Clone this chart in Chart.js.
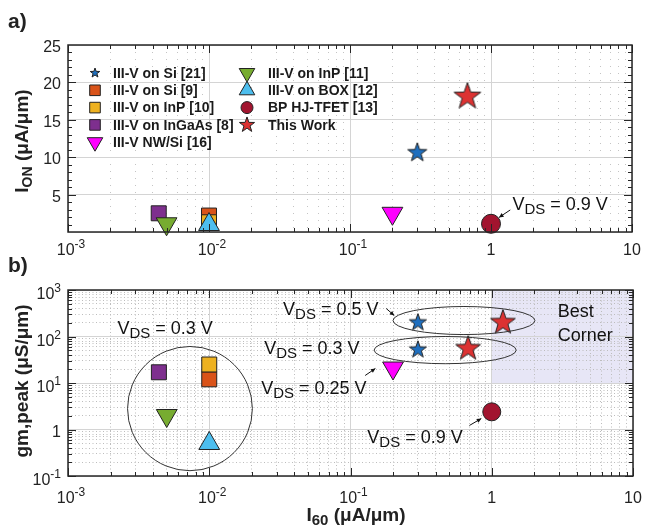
<!DOCTYPE html>
<html>
<head>
<meta charset="utf-8">
<script src="https://cdn.jsdelivr.net/npm/chart.js@4.4.1/dist/chart.umd.min.js"></script>
<style>
body{margin:0;background:#fff;}
#wrap{position:relative;width:647px;height:532px;overflow:hidden;}
canvas{position:absolute;left:0;}
</style>
</head>
<body>
<div id="wrap">
  <canvas id="chartA" width="647" height="266" style="top:0"></canvas>
  <canvas id="chartB" width="647" height="286" style="top:246px"></canvas>
</div>
<script>
// series (same order as legend, column by column)
const seriesNames = ["III-V on Si [21]", "III-V on Si [9]", "III-V on InP [10]", "III-V on InGaAs [8]", "III-V NW/Si [16]",
                     "III-V on InP [11]", "III-V on BOX [12]", "BP HJ-TFET [13]", "This Work"];
const seriesColors = ["#1f6fbf", "#d95319", "#edb120", "#7e2f8e", "#ff00ff", "#77ac30", "#4dbeee", "#a2142f", "#dc3232"];
const seriesShapes = ["star", "rect", "rect", "rect", "triDown", "triDown", "triangle", "circle", "star"];

// a) I60 vs ION
const i60A = [[0.3], [0.01], [0.01], [0.0044], [0.2], [0.005], [0.01], [1.0], [0.68]];
const ionA = [[10.6], [2.2], [1.3], [2.5], [2.5], [1.1], [1.0], [1.1], [18.1]];

// b) I60 vs gm,peak
const i60B = [[0.3, 0.3], [0.01], [0.01], [0.0044], [0.2], [0.005], [0.01], [1.0], [1.2, 0.68]];
const gmB = [[200, 52], [12], [25], [17], [21], [2.0], [0.5], [2.4], [200, 55]];

// ticks
const xTicks = [0.001, 0.01, 0.1, 1, 10];
const xTickLabels = [["10", "-3"], ["10", "-2"], ["10", "-1"], ["1", ""], ["10", ""]];
const ionTicks = [5, 10, 15, 20, 25];
const ionTickLabels = ["5", "10", "15", "20", "25"];
const gmTicks = [0.1, 1, 10, 100, 1000];
const gmTickLabels = [["10", "-1"], ["1", ""], ["10", "1"], ["10", "2"], ["10", "3"]];

// marker sizes / draw order (kept apart from the data)
const sizeA = [10, 10.6, 10.6, 10.6, 12, 12, 12, 9.5, 14];
const sizeB = [9, 10.6, 10.6, 10.6, 12, 12, 12, 9, 13];
const sizeLegend = [5, 7.5, 7.5, 7.5, 9, 9, 9, 6, 8];
const drawOrder = [2, 9, 8, 7, 4, 6, 5, 3, 1];

const FAM = '"Liberation Sans", Arial, Helvetica, sans-serif';
const INK = "#262626";

const logTicks = (e0, e1) => {
  let out = [];
  for (let e = e0; e < e1; e++) for (let k = 1; k < 10; k++) out.push(+(k * Math.pow(10, e)).toPrecision(3));
  out.push(Math.pow(10, e1));
  return out;
};
const isDecade = v => v > 0 && Math.abs(Math.log10(v) - Math.round(Math.log10(v))) < 1e-6;

// star marker as an image
const starCanvas = (R, fill) => {
  const size = Math.ceil(2 * R + 4);
  const c = document.createElement("canvas");
  c.width = c.height = size;
  const g = c.getContext("2d");
  g.beginPath();
  for (let i = 0; i < 10; i++) {
    const r = i % 2 === 0 ? R : R * 0.4;
    const a = -Math.PI / 2 + i * Math.PI / 5;
    g.lineTo(size / 2 + r * Math.cos(a), size / 2 + r * Math.sin(a));
  }
  g.closePath();
  g.fillStyle = fill; g.fill();
  g.lineWidth = 1; g.strokeStyle = "#222"; g.stroke();
  return c;
};

const marker = (ctx, shape, x, y, r, fill) => {
  if (shape === "star") {
    const img = starCanvas(r, fill);
    ctx.drawImage(img, x - img.width / 2, y - img.height / 2);
    return;
  }
  ctx.beginPath();
  if (shape === "rect") {
    const s = r * Math.SQRT1_2;
    ctx.rect(x - s, y - s, 2 * s, 2 * s);
  } else if (shape === "circle") {
    ctx.arc(x, y, r, 0, Math.PI * 2);
  } else {
    const d = shape === "triDown" ? -1 : 1;
    ctx.moveTo(x, y - d * r);
    ctx.lineTo(x + r * 0.866, y + d * r / 2);
    ctx.lineTo(x - r * 0.866, y + d * r / 2);
    ctx.closePath();
  }
  ctx.fillStyle = fill; ctx.fill();
  ctx.strokeStyle = "#222"; ctx.lineWidth = 1; ctx.stroke();
};

// text with sub/superscripts: parts = [text, size, dy]
const rich = (ctx, parts, x, y, align, weight) => {
  weight = weight || "normal";
  let w = 0;
  parts.forEach(p => { ctx.font = weight + " " + p[1] + "px " + FAM; w += ctx.measureText(p[0]).width; });
  let cx = align === "center" ? x - w / 2 : align === "right" ? x - w : x;
  ctx.textAlign = "left"; ctx.textBaseline = "alphabetic";
  parts.forEach(p => {
    ctx.font = weight + " " + p[1] + "px " + FAM;
    ctx.fillText(p[0], cx, y + (p[2] || 0));
    cx += ctx.measureText(p[0]).width;
  });
};
const vds = v => [["V", 18], ["DS", 15, 4], [" = " + v + " V", 18]];

const arrow = (ctx, x0, y0, x1, y1) => {
  ctx.beginPath(); ctx.moveTo(x0, y0); ctx.lineTo(x1, y1); ctx.stroke();
  const a = Math.atan2(y1 - y0, x1 - x0), L = 5;
  ctx.beginPath();
  ctx.moveTo(x1, y1);
  ctx.lineTo(x1 - L * Math.cos(a - 0.45), y1 - L * Math.sin(a - 0.45));
  ctx.lineTo(x1 - L * Math.cos(a + 0.45), y1 - L * Math.sin(a + 0.45));
  ctx.closePath(); ctx.fill();
};

const makeDatasets = (xs, ys, sizes) => seriesNames.map((name, i) => ({
  label: name,
  data: xs[i].map((x, j) => ({x: x, y: ys[i][j]})),
  pointStyle: seriesShapes[i] === "star" ? starCanvas(sizes[i], seriesColors[i])
            : seriesShapes[i] === "triDown" ? "triangle" : seriesShapes[i],
  rotation: seriesShapes[i] === "triDown" ? 180 : 0,
  pointRadius: sizes[i],
  backgroundColor: seriesColors[i],
  borderColor: "#222",
  borderWidth: 1,
  showLine: false,
  clip: false,
  order: drawOrder[i]
}));

// axes frame, ticks, labels, notes
const framePlugin = {
  id: "frame",
  beforeDraw(chart) {
    const f = chart.options.plugins.frame, ctx = chart.ctx;
    const xs = chart.scales.x, ys = chart.scales.y;
    (f.shade || []).forEach(s => {
      const x0 = xs.getPixelForValue(s.x[0]), x1 = xs.getPixelForValue(s.x[1]);
      const y0 = ys.getPixelForValue(s.y[0]), y1 = ys.getPixelForValue(s.y[1]);
      ctx.fillStyle = "#e7e6f6";
      ctx.fillRect(x0, y1, x1 - x0, y0 - y1);
    });
  },
  afterDraw(chart) {
    const f = chart.options.plugins.frame, ctx = chart.ctx;
    const xs = chart.scales.x, ys = chart.scales.y;
    const {left, right, top, bottom} = chart.chartArea;
    ctx.save();
    ctx.strokeStyle = INK; ctx.fillStyle = INK; ctx.lineWidth = 1;
    const seg = (a, b, c, d) => { ctx.beginPath(); ctx.moveTo(a, b); ctx.lineTo(c, d); ctx.stroke(); };
    xs.ticks.forEach(t => {
      const p = Math.round(xs.getPixelForValue(t.value)) + 0.5, L = isDecade(t.value) ? 8 : 4;
      seg(p, bottom, p, bottom - L); seg(p, top, p, top + L);
    });
    f.yMinor.forEach(v => {
      const p = Math.round(ys.getPixelForValue(v)) + 0.5, L = f.yMajor.includes(v) ? 8 : 4;
      seg(left, p, left + L, p); seg(right, p, right - L, p);
    });
    ctx.lineWidth = 1.5;
    ctx.strokeRect(left, top, right - left, bottom - top);

    // tick labels
    ctx.fillStyle = "#222";
    xTicks.forEach((v, i) => {
      const l = xTickLabels[i];
      rich(ctx, [[l[0], 16], [l[1], 12, -7]], xs.getPixelForValue(v) + (l[1] ? 3 : 0), bottom + f.xLabelDy, "center");
    });
    f.yTicks.forEach((v, i) => {
      const l = f.yLabels[i];
      const sup = Array.isArray(l) && l[1];
      const parts = Array.isArray(l) ? [[l[0], 16], [l[1], 12, -7]] : [[l, 16]];
      rich(ctx, parts, left - 7, ys.getPixelForValue(v) + (sup ? 9 : 7), "right");
    });

    // axis titles
    ctx.save();
    ctx.translate(f.yTitle.x, f.yTitle.y);
    ctx.rotate(-Math.PI / 2);
    rich(ctx, f.yTitle.parts, 0, 0, "center", "bold");
    ctx.restore();
    if (f.xTitle) rich(ctx, f.xTitle.parts, f.xTitle.x, f.xTitle.y, "center", "bold");
    rich(ctx, [[f.panel, 21]], 8, f.panelY, "left", "bold");

    // annotations
    ctx.lineWidth = 1; ctx.strokeStyle = "#333";
    (f.ellipses || []).forEach(e => {
      const x0 = xs.getPixelForValue(e.x[0]), x1 = xs.getPixelForValue(e.x[1]);
      const y0 = ys.getPixelForValue(e.y[0]), y1 = ys.getPixelForValue(e.y[1]);
      ctx.beginPath();
      ctx.ellipse((x0 + x1) / 2, (y0 + y1) / 2, Math.abs(x1 - x0) / 2, Math.abs(y0 - y1) / 2, 0, 0, Math.PI * 2);
      ctx.stroke();
    });
    ctx.fillStyle = "#111"; ctx.strokeStyle = "#111";
    (f.arrows || []).forEach(a => {
      arrow(ctx, xs.getPixelForValue(a[0]), ys.getPixelForValue(a[1]), xs.getPixelForValue(a[2]), ys.getPixelForValue(a[3]));
    });
    (f.notes || []).forEach(n => {
      rich(ctx, n.parts, xs.getPixelForValue(n.x), ys.getPixelForValue(n.y), "left");
    });

    // legend
    if (f.legend) {
      const lg = f.legend;
      lg.cols.forEach((col, c) => {
        col.forEach((k, r) => {
          const y = lg.y0 + r * lg.dy;
          marker(ctx, seriesShapes[k], lg.mx[c], y, sizeLegend[k], seriesColors[k]);
          ctx.fillStyle = "#1a1a1a";
          ctx.font = "bold 14px " + FAM;
          ctx.textAlign = "left"; ctx.textBaseline = "middle";
          ctx.fillText(seriesNames[k], lg.tx[c], y + 1);
        });
      });
    }
    ctx.restore();
  }
};

const makeChart = (id, f) => new Chart(document.getElementById(id), {
  type: "scatter",
  data: {datasets: f.datasets},
  options: {
    responsive: false,
    animation: false,
    events: [],
    layout: {padding: {top: f.top, right: 9, left: 0, bottom: 0}},
    plugins: {legend: {display: false}, tooltip: {enabled: false}, frame: f},
    scales: {
      x: {
        type: "logarithmic", min: 0.001, max: 10,
        afterBuildTicks: s => { s.ticks = logTicks(-3, 1).map(v => ({value: v})); },
        afterFit: s => { s.height = f.xHeight; },
        ticks: {display: false},
        grid: {
          drawTicks: false, lineWidth: 1,
          color: c => c.tick && isDecade(c.tick.value) ? "#d4d4d4" : f.minorColor
        },
        border: {display: false, dash: c => c.tick && isDecade(c.tick.value) ? [] : f.dashX}
      },
      y: f.yScale
    }
  },
  plugins: [framePlugin]
});

const ionMinor = [];
for (let v = 1; v < 25; v++) ionMinor.push(v);

makeChart("chartA", {
  datasets: makeDatasets(i60A, ionA, sizeA),
  top: 45, xHeight: 34, xLabelDy: 23,
  minorColor: "#c4c4c4", dashX: [1, 6],
  yScale: {
    type: "linear", min: 0, max: 25,
    afterBuildTicks: s => { s.ticks = [0, 5, 10, 15, 20, 25].map(v => ({value: v})); },
    afterFit: s => { s.width = 68; },
    ticks: {display: false},
    grid: {drawTicks: false, color: "#d4d4d4"},
    border: {display: false}
  },
  yTicks: ionTicks, yLabels: ionTickLabels,
  yMinor: ionMinor, yMajor: ionTicks,
  yTitle: {x: 28, y: 141, parts: [["I", 19], ["ON", 14, 4], [" (\u03bcA/\u03bcm)", 19]]},
  panel: "a)", panelY: 28,
  notes: [{parts: vds("0.9"), x: 1.42, y: 2.95}],
  arrows: [[1.37, 2.95, 1.14, 1.95]],
  legend: {cols: [[0, 1, 2, 3, 4], [5, 6, 7, 8]], mx: [95, 247], tx: [113, 268], y0: 73, dy: 17.3}
});

const gmGrid = logTicks(-1, 3);
makeChart("chartB", {
  datasets: makeDatasets(i60B, gmB, sizeB),
  top: 44, xHeight: 56, xLabelDy: 27,
  minorColor: "#bdbdbd", dashX: [1, 2.5],
  yScale: {
    type: "logarithmic", min: 0.1, max: 1000,
    afterBuildTicks: s => { s.ticks = gmGrid.map(v => ({value: v})); },
    afterFit: s => { s.width = 68; },
    ticks: {display: false},
    grid: {drawTicks: false, color: c => c.tick && isDecade(c.tick.value) ? "#d4d4d4" : "#bdbdbd"},
    border: {display: false, dash: c => c.tick && isDecade(c.tick.value) ? [] : [1, 2.5]}
  },
  yTicks: gmTicks, yLabels: gmTickLabels,
  yMinor: gmGrid, yMajor: gmTicks,
  yTitle: {x: 28, y: 135, parts: [["gm,peak (\u03bcS/\u03bcm)", 19]]},
  xTitle: {x: 356, y: 275, parts: [["I", 19], ["60", 15, 4], [" (\u03bcA/\u03bcm)", 19]]},
  panel: "b)", panelY: 26,
  shade: [{x: [1, 10], y: [10, 1000]}],
  ellipses: [
    {x: [0.00264, 0.0202], y: [0.13, 61]},
    {x: [0.2, 2.02], y: [110, 442]},
    {x: [0.147, 1.49], y: [26, 100]}
  ],
  arrows: [[0.179, 400, 0.204, 283], [0.127, 14.5, 0.150, 20.5], [0.695, 1.22, 0.843, 1.72]],
  notes: [
    {parts: vds("0.3"), x: 0.00224, y: 116},
    {parts: vds("0.5"), x: 0.0333, y: 297},
    {parts: vds("0.3"), x: 0.0245, y: 43},
    {parts: vds("0.25"), x: 0.0233, y: 5.9},
    {parts: vds("0.9"), x: 0.1315, y: 0.5},
    {parts: [["Best", 18]], x: 2.93, y: 269},
    {parts: [["Corner", 18]], x: 2.93, y: 82}
  ]
});
</script>
</body>
</html>
